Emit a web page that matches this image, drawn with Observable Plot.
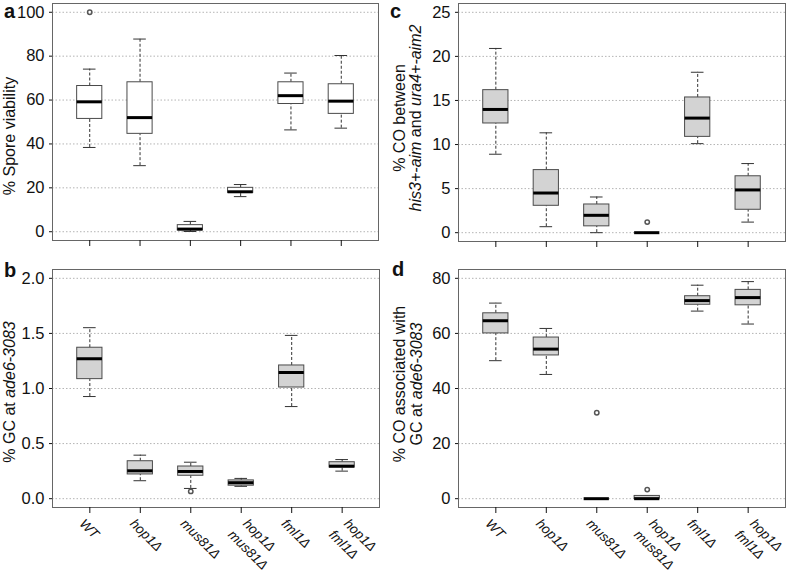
<!DOCTYPE html>
<html><head><meta charset="utf-8">
<script src="https://cdn.jsdelivr.net/npm/d3@7"></script>
<script src="https://cdn.jsdelivr.net/npm/@observablehq/plot@0.6"></script>
<style>
body{margin:0;background:#fff;}
#fig{position:relative;width:787px;height:574px;font-family:"Liberation Sans",Arial,sans-serif;}
#fig svg{position:absolute;overflow:visible;}
.letter{position:absolute;font-size:20px;line-height:20px;font-weight:bold;color:#111;}
</style></head><body><div id="fig"></div>
<script>
// Categories (x axis), two-line labels split by "\n"
const categories = ["WT", "hop1Δ", "mus81Δ", "hop1Δ\nmus81Δ", "fml1Δ", "hop1Δ\nfml1Δ"];

// Box statistics per category: [low whisker, Q1, median, Q3, high whisker]
const viabilityStats = [
  [38.4, 51.4, 59.2, 66.4, 74.1],
  [30.1, 44.6, 52.0, 68.1, 87.8],
  [0.1, 0.6, 1.2, 3.0, 4.7],
  [16.0, 17.7, 18.2, 20.0, 21.5],
  [46.4, 58.2, 62.0, 68.1, 72.3],
  [47.2, 53.7, 59.5, 67.2, 80.3]
];
const viabilityOutliers = [[1, 100]];
const viabilityTicks = [0, 20, 40, 60, 80, 100];

const gcStats = [
  [0.927, 1.085, 1.27, 1.37, 1.552],
  [0.163, 0.22, 0.253, 0.34, 0.395],
  [0.093, 0.208, 0.247, 0.292, 0.331],
  [0.112, 0.118, 0.145, 0.166, 0.184],
  [0.836, 1.009, 1.145, 1.209, 1.482],
  [0.25, 0.283, 0.295, 0.331, 0.355]
];
const gcOutliers = [[3, 0.066]];
const gcTicks = [0, 0.5, 1.0, 1.5, 2.0];

const coStats = [
  [8.9, 12.39, 13.98, 16.17, 20.9],
  [0.68, 3.05, 4.5, 7.1, 11.33],
  [0, 0.72, 1.97, 3.2, 4.05],
  [0, 0, 0, 0, 0],
  [10.1, 10.87, 13.0, 15.34, 18.2],
  [1.2, 2.6, 4.85, 6.4, 7.84]
];
const coOutliers = [[4, 1.2]];
const coTicks = [0, 5, 10, 15, 20, 25];

const coGcStats = [
  [50.1, 60.0, 64.6, 67.3, 71.0],
  [45.1, 52.0, 54.3, 58.5, 61.8],
  [0, 0, 0, 0, 0],
  [0, 0, 0, 1.0, 1.0],
  [68.1, 70.4, 71.9, 73.5, 77.5],
  [63.4, 70.2, 73.0, 75.8, 78.8]
];
const coGcOutliers = [[3, 31.2], [4, 3.3]];
const coGcTicks = [0, 20, 40, 60, 80];

const FONT = '"Liberation Sans", Arial, sans-serif';
const fig = document.getElementById("fig");

function panel(o) {
  const boxes = o.stats.map((s, i) => ({x: i + 1, lo: s[0], q1: s[1], med: s[2], q3: s[3], hi: s[4]}));
  const pts = o.outliers.map(([c, v]) => ({x: c, v}));
  const cats = categories.map((c, i) => ({x: i + 1, lines: c.split("\n")}));
  const labelOpts = {x: "x", frameAnchor: "bottom", textAnchor: "start", lineAnchor: "bottom",
    rotate: 45, fontStyle: "italic", fontSize: 13.5, fill: "#111"};
  const marks = [
    Plot.ruleY(o.ticks, {stroke: "#b4b4b4", strokeDasharray: "1.5,2"}),
    Plot.ruleX(boxes, {x: "x", y1: "q3", y2: "hi", stroke: "#333", strokeDasharray: "3,2"}),
    Plot.ruleX(boxes, {x: "x", y1: "lo", y2: "q1", stroke: "#333", strokeDasharray: "3,2"}),
    Plot.ruleY(boxes, {y: "hi", x1: d => d.x - 0.125, x2: d => d.x + 0.125, stroke: "#333"}),
    Plot.ruleY(boxes, {y: "lo", x1: d => d.x - 0.125, x2: d => d.x + 0.125, stroke: "#333"}),
    Plot.rect(boxes, {x1: d => d.x - 0.25, x2: d => d.x + 0.25, y1: "q1", y2: "q3", fill: o.fill, stroke: "#4a4a4a"}),
    Plot.ruleY(boxes, {y: "med", x1: d => d.x - 0.25, x2: d => d.x + 0.25, stroke: "#000", strokeWidth: 3}),
    Plot.dot(pts, {x: "x", y: "v", r: 2.2, stroke: "#555", fill: "none"}),
    Plot.frame({stroke: "#666"}),
    Plot.axisY({ticks: o.ticks, tickSize: 3, tickPadding: 5, tickFormat: o.fmt, label: null, fontSize: 16.5, fill: "#111"}),
    Plot.axisX({ticks: [1, 2, 3, 4, 5, 6], tickSize: 6, tickFormat: () => "", label: null})
  ];
  if (o.labels) {
    marks.push(
      Plot.text(cats.filter(d => d.lines.length === 1), {...labelOpts, text: d => d.lines[0], dx: -11, dy: 17}),
      Plot.text(cats.filter(d => d.lines.length === 2), {...labelOpts, text: d => d.lines[0], dx: 1, dy: 17}),
      Plot.text(cats.filter(d => d.lines.length === 2), {...labelOpts, text: d => d.lines[1], dx: -14, dy: 28})
    );
  }
  const svg = Plot.plot({
    width: o.width, height: o.height,
    marginTop: o.m[0], marginRight: o.m[1], marginBottom: o.m[2], marginLeft: o.m[3],
    x: {type: "linear", domain: [0.26, 6.74]},
    y: {type: "linear", domain: o.domain},
    style: {fontFamily: FONT, fontSize: "15px", color: "#111", background: "transparent"},
    marks
  });
  svg.style.left = o.left + "px";
  svg.style.top = o.top + "px";
  fig.appendChild(svg);
  const s = d3.select(svg);
  // panel letter (HTML)
  const L = document.createElement("div");
  L.className = "letter";
  L.textContent = o.letter;
  L.style.left = (o.left + o.letterPos[0]) + "px";
  L.style.top = (o.top + o.letterPos[1]) + "px";
  fig.appendChild(L);
  // y titles (each line is an array of [text, italic])
  o.title.forEach((parts, k) => {
    const t = s.append("text")
      .attr("transform", `translate(${o.titleX[k]},${o.titleY}) rotate(-90)`)
      .attr("text-anchor", "middle").attr("font-size", 16).attr("font-family", FONT).attr("fill", "#111");
    parts.forEach(([txt, it]) => t.append("tspan").attr("font-style", it ? "italic" : "normal").text(txt));
  });
}

panel({stats: viabilityStats, outliers: viabilityOutliers, ticks: viabilityTicks, domain: [-4, 104],
  fill: "#ffffff", fmt: d3.format("d"), left: 0, top: 0, width: 393, height: 250, m: [3, 15, 10, 52],
  labels: false, letter: "a", letterPos: [4, 1],
  title: [[["% Spore viability", false]]], titleX: [15], titleY: 136});

panel({stats: gcStats, outliers: gcOutliers, ticks: gcTicks, domain: [-0.08, 2.08],
  fill: "#d3d3d3", fmt: d3.format(".1f"), left: 0, top: 250, width: 393, height: 324, m: [19, 14, 67, 52],
  labels: true, letter: "b", letterPos: [4, 10],
  title: [[["% GC at ", false], ["ade6-3083", true]]], titleX: [15], titleY: 142});

panel({stats: coStats, outliers: coOutliers, ticks: coTicks, domain: [-1, 26],
  fill: "#d3d3d3", fmt: d3.format("d"), left: 388, top: 0, width: 399, height: 250, m: [3, 2, 9, 70],
  labels: false, letter: "c", letterPos: [2, 1],
  title: [[["% CO between", false]], [["his3+-aim", true], [" and ", false], ["ura4+-aim2", true]]],
  titleX: [17, 33], titleY: 118});

panel({stats: coGcStats, outliers: coGcOutliers, ticks: coGcTicks, domain: [-3.2, 83.2],
  fill: "#d3d3d3", fmt: d3.format("d"), left: 388, top: 250, width: 399, height: 324, m: [19, 2, 67, 70],
  labels: true, letter: "d", letterPos: [4, 9],
  title: [[["% CO associated with", false]], [["GC at ", false], ["ade6-3083", true]]],
  titleX: [17, 34], titleY: 134});
</script></body></html>
